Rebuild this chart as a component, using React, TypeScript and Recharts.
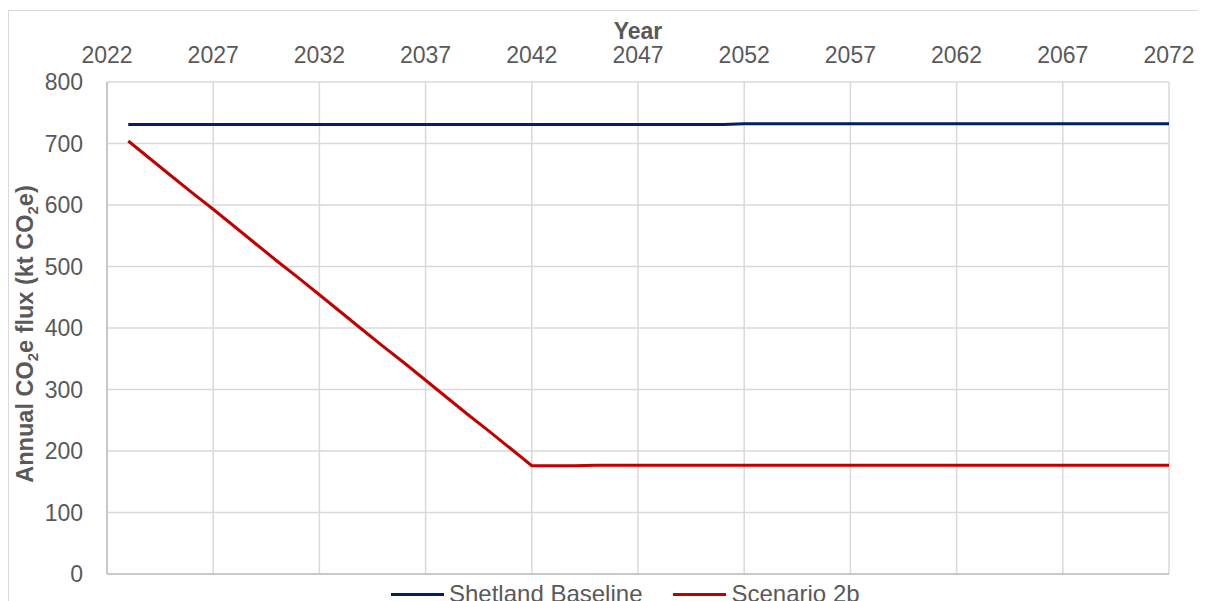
import React from 'react';
import { LineChart, Line, XAxis, YAxis, CartesianGrid, Legend, ReferenceLine } from 'recharts';

const years = [
  2023, 2024, 2025, 2026, 2027, 2028, 2029, 2030, 2031, 2032,
  2033, 2034, 2035, 2036, 2037, 2038, 2039, 2040, 2041, 2042,
  2043, 2044, 2045, 2046, 2047, 2048, 2049, 2050, 2051, 2052,
  2053, 2054, 2055, 2056, 2057, 2058, 2059, 2060, 2061, 2062,
  2063, 2064, 2065, 2066, 2067, 2068, 2069, 2070, 2071, 2072,
];

const shetlandBaseline = [
  731, 731, 731, 731, 731, 731, 731, 731, 731, 731,
  731, 731, 731, 731, 731, 731, 731, 731, 731, 731,
  731, 731, 731, 731, 731, 731, 731, 731, 731, 732,
  732, 732, 732, 732, 732, 732, 732, 732, 732, 732,
  732, 732, 732, 732, 732, 732, 732, 732, 732, 732,
];

const scenario2b = [
  704, 676, 648, 620, 593, 565, 537, 509, 482, 454,
  426, 398, 370, 343, 315, 287, 259, 232, 204, 176,
  176, 176, 177, 177, 177, 177, 177, 177, 177, 177,
  177, 177, 177, 177, 177, 177, 177, 177, 177, 177,
  177, 177, 177, 177, 177, 177, 177, 177, 177, 177,
];

const xTicks = [2022, 2027, 2032, 2037, 2042, 2047, 2052, 2057, 2062, 2067, 2072];
const yTicks = [0, 100, 200, 300, 400, 500, 600, 700, 800];

const seriesNames = ['Shetland Baseline', 'Scenario 2b'];
const seriesColors = ['#002060', '#C00000'];

const data = years.map((y, i) => ({
  year: y,
  baseline: shetlandBaseline[i],
  scenario: scenario2b[i],
}));

const FONT = '"Liberation Sans", Arial, sans-serif';
const TEXT = '#595959';

const YLabel = () => (
  <text
    x={24}
    y={323}
    transform="rotate(-90 24 323)"
    textAnchor="middle"
    fontFamily={FONT}
    fontSize={23.5}
    fontWeight="bold"
    fill={TEXT}
  >
    <tspan>Annual CO</tspan>
    <tspan fontSize={15} dy={5}>2</tspan>
    <tspan dy={-5}>e flux (kt CO</tspan>
    <tspan fontSize={15} dy={5}>2</tspan>
    <tspan dy={-5}>e)</tspan>
  </text>
);

const XLabel = () => (
  <text
    x={629}
    y={28}
    textAnchor="middle"
    fontFamily={FONT}
    fontSize={23}
    fontWeight="bold"
    fill={TEXT}
  >
    Year
  </text>
);

const LegendContent = () => (
  <div
    style={{
      width: 1198,
      height: 44,
      display: 'flex',
      alignItems: 'flex-start',
      paddingTop: 8,
      boxSizing: 'border-box',
      paddingLeft: 382,
      fontFamily: FONT,
      fontSize: 24,
      color: TEXT,
    }}
  >
    {seriesNames.map((n, i) => (
      <div key={n} style={{ display: 'flex', alignItems: 'center', marginRight: 31, height: 24 }}>
        <div style={{ width: 53, height: 3, background: seriesColors[i], marginRight: 5 }} />
        <span style={{ lineHeight: '24px', whiteSpace: 'nowrap' }}>{n}</span>
      </div>
    ))}
  </div>
);

export default function App() {
  return (
    <div
      style={{
        marginTop: 2,
        width: 1198,
        border: '1px solid #d9d9d9',
        background: '#fff',
      }}
    >
      <LineChart
        width={1198}
        height={612}
        data={data}
        margin={{ top: 31, right: 38, bottom: 5, left: 38 }}
      >
        <CartesianGrid stroke="#d9d9d9" strokeWidth={1.5} />
        <XAxis
          dataKey="year"
          type="number"
          orientation="top"
          domain={[2022, 2072]}
          ticks={xTicks}
          interval={0}
          height={40}
          axisLine={false}
          tickLine={false}
          tickSize={0}
          tickMargin={19}
          tick={{ fill: TEXT, fontSize: 23, fontFamily: FONT }}
          label={<XLabel />}
        />
        <YAxis
          type="number"
          domain={[0, 800]}
          ticks={yTicks}
          interval={0}
          width={60}
          axisLine={{ stroke: '#bfbfbf', strokeWidth: 1.5 }}
          tickLine={false}
          tickSize={0}
          tickMargin={24}
          tick={{ fill: TEXT, fontSize: 23, fontFamily: FONT }}
          label={<YLabel />}
        />
        <ReferenceLine y={0} stroke="#bfbfbf" strokeWidth={1.5} />
        <Line
          dataKey="baseline"
          name={seriesNames[0]}
          stroke={seriesColors[0]}
          strokeWidth={3}
          dot={false}
          isAnimationActive={false}
        />
        <Line
          dataKey="scenario"
          name={seriesNames[1]}
          stroke={seriesColors[1]}
          strokeWidth={3}
          dot={false}
          isAnimationActive={false}
        />
        <Legend
          verticalAlign="bottom"
          align="left"
          height={44}
          wrapperStyle={{ left: 0, top: 563, width: 1198, height: 44 }}
          content={<LegendContent />}
        />
      </LineChart>
    </div>
  );
}
